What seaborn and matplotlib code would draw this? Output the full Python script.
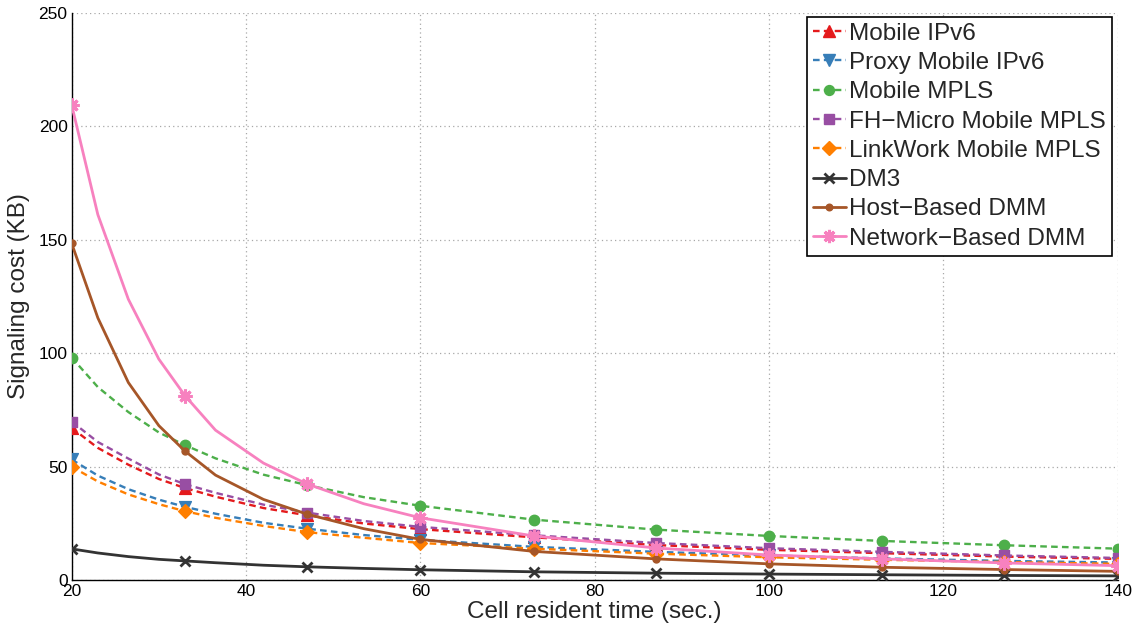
import matplotlib
matplotlib.use("Agg")
import matplotlib.pyplot as plt
import seaborn as sns
import pandas as pd
from matplotlib.lines import Line2D

# ---- data ----
x_curve = [20, 23, 26.5, 30, 33, 36.5, 42, 47, 53.5, 60, 73, 87, 100, 113, 127, 140]
x_marks = [20, 33, 47, 60, 73, 87, 100, 113, 127, 140]

series_names = ["Mobile IPv6", "Proxy Mobile IPv6", "Mobile MPLS",
                "FH\u2212Micro Mobile MPLS", "LinkWork Mobile MPLS", "DM3",
                "Host\u2212Based DMM", "Network\u2212Based DMM"]

mobile_ipv6 = [67.0, 58.2, 50.8, 44.5, 40.5, 36.7, 31.7, 28.5, 24.9, 22.4, 18.8, 15.4, 13.3, 11.8, 10.3, 9.3]
proxy_mobile_ipv6 = [53.1, 46.0, 40.0, 35.4, 32.2, 29.2, 25.2, 22.6, 19.8, 17.7, 14.6, 12.4, 10.8, 9.5, 8.4, 7.7]
mobile_mpls = [98.0, 85.0, 74.0, 65.0, 59.4, 53.6, 46.4, 41.8, 36.5, 32.7, 26.6, 22.2, 19.4, 17.2, 15.3, 13.8]
fh_micro_mpls = [69.8, 60.8, 53.5, 46.5, 42.2, 38.4, 33.2, 29.7, 26.0, 23.4, 19.7, 16.3, 14.0, 12.4, 10.8, 9.7]
linkwork_mpls = [49.9, 43.4, 37.7, 33.4, 30.3, 27.4, 23.8, 21.1, 18.6, 16.3, 13.8, 11.6, 10.0, 8.9, 7.9, 7.1]
dm3 = [13.7, 11.9, 10.3, 9.1, 8.4, 7.6, 6.5, 5.8, 5.1, 4.5, 3.6, 3.0, 2.6, 2.3, 2.0, 1.8]
host_dmm = [148.3, 115.5, 87.0, 68.0, 56.8, 46.2, 35.5, 29.0, 22.6, 17.9, 12.6, 9.3, 7.1, 5.6, 4.6, 3.8]
network_dmm = [209.3, 161.0, 123.7, 97.3, 81.2, 66.0, 51.5, 42.3, 33.6, 27.4, 19.4, 14.1, 11.0, 9.3, 7.5, 6.3]

x_ticks = [20, 40, 60, 80, 100, 120, 140]
y_ticks = [0, 50, 100, 150, 200, 250]
x_label = "Cell resident time (sec.)"
y_label = "Signaling cost (KB)"

# ---- styles ----
colors = ["#E41A1C", "#377EB8", "#4DAF4A", "#984EA3", "#FF7F00", "#333333", "#A65628", "#F781BF"]
markers = ["^", "v", "o", "s", "D", "x", "o", (8, 2, 0)]
msizes = [8.5, 8.5, 7.5, 7, 7, 7, 5, 10]
mews = [1, 1, 1, 1, 1, 2.0, 1, 2.2]
dashed = [True, True, True, True, True, False, False, False]
DASH = (2.8, 1.8)

all_values = [mobile_ipv6, proxy_mobile_ipv6, mobile_mpls, fh_micro_mpls,
              linkwork_mpls, dm3, host_dmm, network_dmm]

sns.set_style("white")
plt.rcParams["font.family"] = ["Liberation Sans", "DejaVu Sans"]

fig = plt.figure(figsize=(11.36, 6.30), dpi=100)
ax = fig.add_axes([0.0631, 0.0794, 0.9839 - 0.0631, 0.980 - 0.0794])

handles = []
for i, (name, vals) in enumerate(zip(series_names, all_values)):
    df = pd.DataFrame({"x": x_curve, "y": vals})
    dm = df[df["x"].isin(x_marks)]
    ls = (0, DASH) if dashed[i] else "-"
    lw = 1.7 if dashed[i] else 2.0
    sns.lineplot(data=df, x="x", y="y", ax=ax, color=colors[i], linewidth=lw,
                 linestyle=ls, zorder=3 + i, legend=False)
    filled = markers[i] not in ("x", (8, 2, 0))
    if filled:
        sns.scatterplot(data=dm, x="x", y="y", ax=ax, marker=markers[i],
                        s=msizes[i] ** 2, color=colors[i], edgecolor=colors[i],
                        linewidth=mews[i], zorder=3.5 + i, legend=False)
    else:
        sns.lineplot(data=dm, x="x", y="y", ax=ax, color=colors[i], linestyle="none",
                     marker=markers[i], markersize=msizes[i], markeredgewidth=mews[i],
                     markeredgecolor=colors[i], zorder=3.5 + i, legend=False)
    handles.append(Line2D([], [], color=colors[i], linewidth=lw, linestyle=ls,
                          marker=markers[i], markersize=msizes[i] * 0.95,
                          markeredgewidth=mews[i], markerfacecolor=colors[i],
                          markeredgecolor=colors[i], label=name))

ax.set_xlim(20, 140)
ax.set_ylim(0, 250)
ax.set_xticks(x_ticks)
ax.set_yticks(y_ticks)
ax.grid(True, linestyle=(0, (1, 2.5)), color="#a8a8a8", linewidth=0.9, zorder=0)
ax.set_axisbelow(True)
for side in ("top", "right"):
    ax.spines[side].set_visible(False)
for side in ("left", "bottom"):
    ax.spines[side].set_color("black")
    ax.spines[side].set_linewidth(1.0)
ax.tick_params(axis="both", direction="in", length=5, width=0.9, labelsize=12.5,
               colors="black", pad=3, top=False, right=False)
ax.set_xlabel(x_label, fontsize=17.5, labelpad=1)
ax.set_ylabel(y_label, fontsize=17.5, labelpad=6)

leg = ax.legend(handles=handles, loc="upper right", bbox_to_anchor=(0.9946, 0.993),
                borderaxespad=0, fontsize=17.5, handlelength=1.35, handletextpad=0.15,
                labelspacing=0.3, borderpad=0.25, frameon=True, fancybox=False,
                framealpha=1, edgecolor="black")
leg.get_frame().set_linewidth(1.2)
leg.set_zorder(20)

fig.savefig("out.png", dpi=100)
